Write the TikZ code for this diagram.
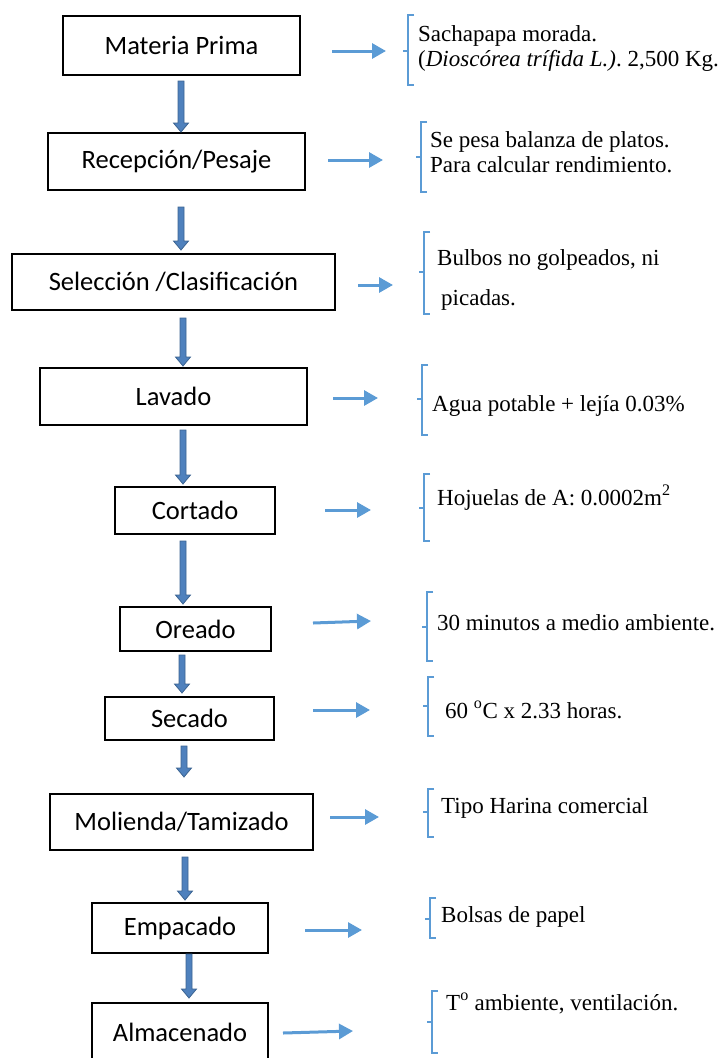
\documentclass[tikz,border=0pt]{standalone}
\usepackage{fontspec}
\setmainfont{Liberation Serif}
\newfontfamily\boxfont{Carlito}
\usetikzlibrary{arrows.meta,calc}
\definecolor{flowblue}{HTML}{4F81BD}
\definecolor{flowedge}{HTML}{3C6491}
\definecolor{noteblue}{HTML}{5B9BD5}
\frenchspacing

\tikzset{
  stepbox/.style={draw=black, line width=1.3pt, inner sep=0pt,
    font=\boxfont\fontsize{26.5}{31}\selectfont},
  note/.style={anchor=base west, inner sep=0pt,
    font=\fontsize{23}{27}\selectfont},
  sidearrow/.style={draw=noteblue, line width=3pt,
    -{Triangle[length=14pt,width=15pt]}},
  brace/.style={draw=noteblue, line width=1.3pt},
  downarrow/.style={fill=flowblue, draw=flowedge, line width=0.8pt},
}

% thick block arrow pointing down, from coordinate #1 to tip coordinate #2
\newcommand{\flowarrow}[2]{%
  \draw[downarrow] ($(#1)+(-3,0)$) -- ($(#1)+(3,0)$) -- ($(#2)+(3,-9)$)
    -- ($(#2)+(7.5,-9)$) -- (#2) -- ($(#2)+(-7.5,-9)$) -- ($(#2)+(-3,-9)$) -- cycle;}

% square bracket with a small spur: x, top, spur, bottom
\newcommand{\sidebrace}[4]{%
  \draw[brace] (#1+6,#2) -- (#1,#2) -- (#1,#4) -- (#1+6,#4);
  \draw[brace] (#1,#3) -- (#1-5,#3);}

\begin{document}
\begin{tikzpicture}[x=1pt,y=-1pt]
\useasboundingbox (0,0) rectangle (723,1058);

% process steps
\node[stepbox, minimum width=237pt, minimum height=59pt] (mp)  at (181.5,45.5)  {Materia Prima};
\node[stepbox, minimum width=257pt, minimum height=57pt] (rec) at (176.5,161.5) {Recepción/Pesaje};
\node[stepbox, minimum width=323pt, minimum height=56pt] (sel) at (173.5,282)   {Selección /Clasificación};
\node[stepbox, minimum width=267pt, minimum height=57pt] (lav) at (173.5,396.5) {Lavado};
\node[stepbox, minimum width=160pt, minimum height=47pt] (cor) at (195,510.5)   {Cortado};
\node[stepbox, minimum width=151pt, minimum height=44pt] (ore) at (195.5,629)   {Oreado};
\node[stepbox, minimum width=169pt, minimum height=43pt] (sec) at (189.5,718.5) {Secado};
\node[stepbox, minimum width=263pt, minimum height=56pt] (mol) at (181.5,822)   {Molienda/Tamizado};
\node[stepbox, minimum width=176pt, minimum height=50pt] (emp) at (180,928)     {Empacado};
\node[stepbox, minimum width=176pt, minimum height=59pt] (alm) at (180,1032.5)  {Almacenado};

% block arrows between steps
\coordinate (d1a) at (181,81);  \coordinate (d1b) at (181,132);
\coordinate (d2a) at (181,207); \coordinate (d2b) at (181,250);
\coordinate (d3a) at (183,318); \coordinate (d3b) at (183,366);
\coordinate (d4a) at (183,430); \coordinate (d4b) at (183,484);
\coordinate (d5a) at (183,541); \coordinate (d5b) at (183,604);
\coordinate (d6a) at (182,655); \coordinate (d6b) at (182,693);
\coordinate (d7a) at (184,746); \coordinate (d7b) at (184,777);
\coordinate (d8a) at (185,857); \coordinate (d8b) at (185,900);
\coordinate (d9a) at (189,954); \coordinate (d9b) at (189,998);
\flowarrow{d1a}{d1b}
\flowarrow{d2a}{d2b}
\flowarrow{d3a}{d3b}
\flowarrow{d4a}{d4b}
\flowarrow{d5a}{d5b}
\flowarrow{d6a}{d6b}
\flowarrow{d7a}{d7b}
\flowarrow{d8a}{d8b}
\flowarrow{d9a}{d9b}

% side arrows towards the notes
\coordinate (h1a) at (332,51);   \coordinate (h1b) at (386,51);
\coordinate (h2a) at (328,160);  \coordinate (h2b) at (383,160);
\coordinate (h3a) at (358,285);  \coordinate (h3b) at (393,285);
\coordinate (h4a) at (333,398);  \coordinate (h4b) at (378,398);
\coordinate (h5a) at (325,510);  \coordinate (h5b) at (371,510);
\coordinate (h6a) at (313,623);  \coordinate (h6b) at (371,621);
\coordinate (h7a) at (313,710);  \coordinate (h7b) at (370,710);
\coordinate (h8a) at (330,817);  \coordinate (h8b) at (379,817);
\coordinate (h9a) at (305,930);  \coordinate (h9b) at (362,930);
\coordinate (h10a) at (283,1033); \coordinate (h10b) at (353,1031);
\draw[sidearrow] (h1a) -- (h1b);
\draw[sidearrow] (h2a) -- (h2b);
\draw[sidearrow] (h3a) -- (h3b);
\draw[sidearrow] (h4a) -- (h4b);
\draw[sidearrow] (h5a) -- (h5b);
\draw[sidearrow] (h6a) -- (h6b);
\draw[sidearrow] (h7a) -- (h7b);
\draw[sidearrow] (h8a) -- (h8b);
\draw[sidearrow] (h9a) -- (h9b);
\draw[sidearrow] (h10a) -- (h10b);

% brackets
\sidebrace{408}{15}{51}{85}
\sidebrace{421}{122}{157}{192}
\sidebrace{424}{232}{272}{314}
\sidebrace{422}{365}{399}{435}
\sidebrace{424}{474}{508}{541}
\sidebrace{427}{592}{627}{661}
\sidebrace{428}{677}{706}{736}
\sidebrace{428}{789}{812}{837}
\sidebrace{430}{898}{919}{938}
\sidebrace{432}{991}{1022}{1053}

% notes
\node[note] (n1a) at (418,41) {Sachapapa morada.};
\node[note] (n1b) at (418,66) {(\textit{Dioscórea trífida L.)}. 2,500 Kg.};
\node[note] (n2a) at (430,147) {Se pesa balanza de platos.};
\node[note] (n2b) at (430,172) {Para calcular rendimiento.};
\node[note] (n3a) at (437,265) {Bulbos no golpeados, ni};
\node[note] (n3b) at (441,305) {picadas.};
\node[note] (n4)  at (432,411) {Agua potable + lejía 0.03\%};
\node[note] (n5)  at (437,505) {Hojuelas de A: 0.0002m\textsuperscript{2}};
\node[note] (n6)  at (437,630) {30 minutos a medio ambiente.};
\node[note] (n7)  at (445,718) {60 \textsuperscript{o}C x 2.33 horas.};
\node[note] (n8)  at (441,813) {Tipo Harina comercial};
\node[note] (n9)  at (441,922) {Bolsas de papel};
\node[note] (n10) at (446,1010) {T\textsuperscript{o} ambiente, ventilación.};
\end{tikzpicture}
\end{document}
